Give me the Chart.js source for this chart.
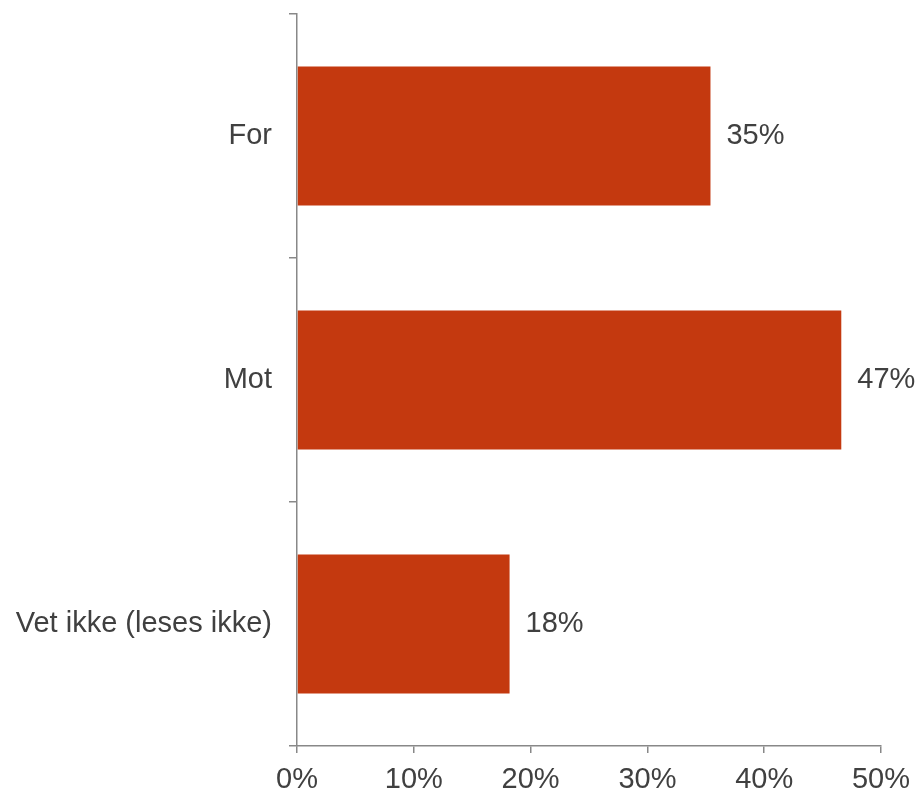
<!DOCTYPE html>
<html lang="no">
<head>
    <meta charset="UTF-8">
    <title>For / Mot</title>
    <script src="https://cdn.jsdelivr.net/npm/chart.js"></script>
    <style>
        html, body { margin: 0; padding: 0; background: #fff; }
        #wrap { width: 917px; height: 795px; }
    </style>
</head>
<body>
    <div id="wrap"><canvas id="chart" width="917" height="795"></canvas></div>

    <script>
        // Data
        const categories = ['For', 'Mot', 'Vet ikke (leses ikke)'];
        const values = [35.4, 46.6, 18.2];
        const tickValues = [0, 10, 20, 30, 40, 50];

        const textColor = '#404040';
        const axisColor = '#888888';
        const fontFamily = '"Liberation Sans", Arial, sans-serif';

        // labels at the end of each bar
        const barLabels = {
            id: 'barLabels',
            afterDatasetsDraw(chart) {
                const ctx = chart.ctx;
                const meta = chart.getDatasetMeta(0);
                ctx.save();
                ctx.font = '29px ' + fontFamily;
                ctx.fillStyle = textColor;
                ctx.textAlign = 'left';
                ctx.textBaseline = 'middle';
                meta.data.forEach((bar, i) => {
                    ctx.fillText(Math.round(values[i]) + '%', bar.x + 16, bar.y);
                });
                ctx.restore();
            }
        };

        Chart.defaults.font.family = fontFamily;
        Chart.defaults.font.size = 29;
        Chart.defaults.color = textColor;

        new Chart(document.getElementById('chart').getContext('2d'), {
            type: 'bar',
            data: {
                labels: categories,
                datasets: [{
                    data: values,
                    backgroundColor: '#C4390F',
                    borderWidth: 0,
                    categoryPercentage: 1,
                    barPercentage: 0.57
                }]
            },
            options: {
                indexAxis: 'y',
                responsive: false,
                animation: false,
                layout: { padding: { top: 14, right: 36, left: 0, bottom: 0 } },
                plugins: {
                    legend: { display: false },
                    tooltip: { enabled: false }
                },
                scales: {
                    x: {
                        min: 0,
                        max: 50,
                        afterBuildTicks: scale => {
                            scale.ticks = tickValues.map(v => ({ value: v }));
                        },
                        afterFit: scale => {
                            scale.height = 49;
                            scale.paddingLeft = 0;
                            scale.paddingRight = 0;
                        },
                        ticks: {
                            padding: 10,
                            callback: v => v + '%'
                        },
                        grid: {
                            drawOnChartArea: false,
                            color: axisColor,
                            tickLength: 7,
                            lineWidth: 1.5
                        },
                        border: { color: axisColor, width: 1.5 }
                    },
                    y: {
                        afterFit: scale => {
                            scale.width = 297;
                            scale.paddingTop = 0;
                            scale.paddingBottom = 0;
                        },
                        ticks: { padding: 17 },
                        grid: {
                            drawOnChartArea: false,
                            offset: true,
                            color: axisColor,
                            tickLength: 8,
                            lineWidth: 1.5
                        },
                        border: { color: axisColor, width: 1.5 }
                    }
                }
            },
            plugins: [barLabels]
        });
    </script>
</body>
</html>
